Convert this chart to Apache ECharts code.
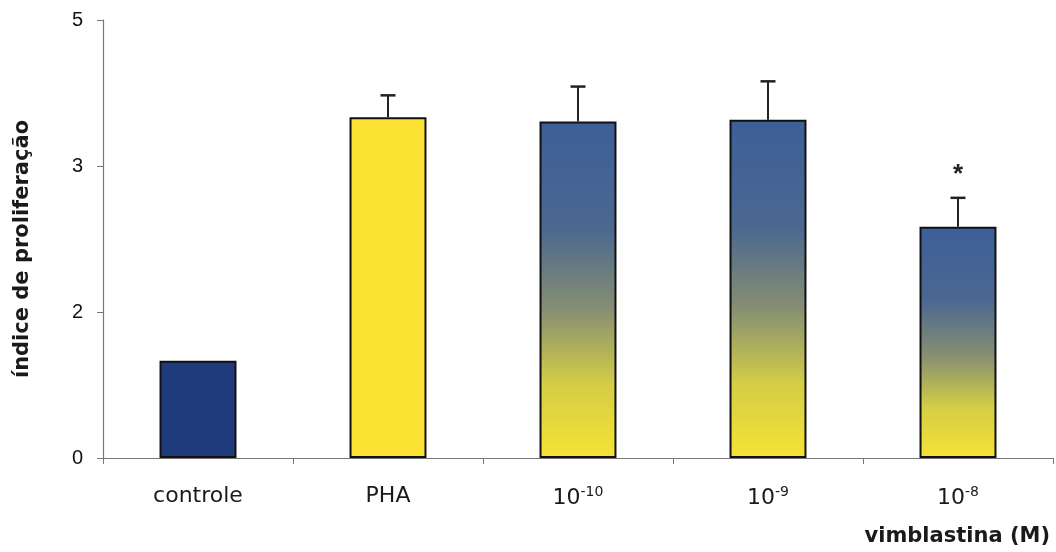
<!DOCTYPE html>
<html>
<head>
<meta charset="utf-8">
<script src="https://cdn.jsdelivr.net/npm/echarts@6/dist/echarts.min.js"></script>
<style>
  html, body { margin: 0; padding: 0; background: #ffffff; }
  #chart { width: 1056px; height: 552px; }
</style>
</head>
<body>
<div id="chart"></div>
<script>
// Proliferation index per treatment
const categories = ['controle', 'PHA', '10{sup|-10}', '10{sup|-9}', '10{sup|-8}'];
const means = [1.11, 3.89, 3.84, 3.86, 2.64];
const upperErrors = [null, 0.25, 0.40, 0.44, 0.33];
const significance = ['', '', '', '', '*'];
const yMin = 0, yMax = 5, yStep = 5 / 3;

const blueYellow = new echarts.graphic.LinearGradient(0, 0, 0, 1, [
  { offset: 0, color: '#3d5f98' },
  { offset: 0.32, color: '#4b6890' },
  { offset: 0.56, color: '#878f72' },
  { offset: 0.78, color: '#d4cd46' },
  { offset: 1, color: '#f6e334' }
]);
const fills = ['#1f3b7c', '#fbe233', blueYellow, blueYellow, blueYellow];

const chart = echarts.init(document.getElementById('chart'));
const sans = 'Arial, "Liberation Sans", sans-serif';
const wide = '"DejaVu Sans", Arial, sans-serif';

chart.setOption({
  backgroundColor: '#ffffff',
  animation: false,
  grid: { left: 103, right: 3, top: 20, bottom: 94, outerBoundsMode: 'none' },
  xAxis: {
    type: 'category',
    data: categories,
    axisLine: { lineStyle: { color: '#777', width: 1.2 } },
    axisTick: { show: true, length: 6, lineStyle: { color: '#777' } },
    axisLabel: {
      color: '#1a1a1a', fontFamily: wide, fontSize: 22, margin: 27,
      rich: { sup: { fontSize: 14, verticalAlign: 'top', padding: [0, 0, 12, 0], color: '#1a1a1a', fontFamily: wide } }
    },
    name: 'vimblastina (M)',
    nameLocation: 'end',
    nameGap: 0,
    nameTextStyle: {
      fontFamily: wide, fontWeight: 'bold', fontSize: 21, color: '#1a1a1a',
      align: 'right', verticalAlign: 'top', padding: [68, 3, 0, 0]
    }
  },
  yAxis: {
    type: 'value',
    min: yMin, max: yMax, interval: yStep,
    axisLine: { show: true, lineStyle: { color: '#777', width: 1.2 } },
    axisTick: { show: true, length: 6, lineStyle: { color: '#777' } },
    splitLine: { show: false },
    axisLabel: {
      color: '#111', fontFamily: sans, fontSize: 20, margin: 20,
      formatter: v => String(Math.round(v))
    },
    name: 'índice de proliferação',
    nameLocation: 'middle',
    nameGap: 70,
    nameRotate: 90,
    nameTextStyle: {
      fontFamily: wide, fontWeight: 'bold', fontSize: 21, color: '#1a1a1a',
      padding: [0, 0, 0, -20]
    }
  },
  series: [
    {
      type: 'bar',
      barWidth: '40.5%',
      data: means.map((v, i) => ({
        value: v,
        itemStyle: { color: fills[i], borderColor: '#111', borderWidth: 2 }
      }))
    },
    {
      type: 'custom',
      z: 5,
      data: means.map((v, i) => [i, v, upperErrors[i], significance[i]]),
      renderItem: function (params, api) {
        const i = api.value(0);
        const mean = api.value(1);
        const err = upperErrors[i];
        if (err == null) return null;
        const base = api.coord([i, mean]);
        const top = api.coord([i, mean + err]);
        const half = 7.5;
        const children = [
          { type: 'line', shape: { x1: base[0], y1: base[1], x2: top[0], y2: top[1] },
            style: { stroke: '#222', lineWidth: 2 } },
          { type: 'line', shape: { x1: top[0] - half, y1: top[1], x2: top[0] + half, y2: top[1] },
            style: { stroke: '#222', lineWidth: 2.5 } }
        ];
        const mark = significance[i];
        if (mark) {
          children.push({
            type: 'text',
            style: {
              text: mark, x: top[0], y: top[1] - 23,
              align: 'center', verticalAlign: 'middle',
              fontFamily: sans, fontSize: 26, fontWeight: 'bold', fill: '#222'
            }
          });
        }
        return { type: 'group', children: children };
      }
    }
  ]
});
</script>
</body>
</html>
